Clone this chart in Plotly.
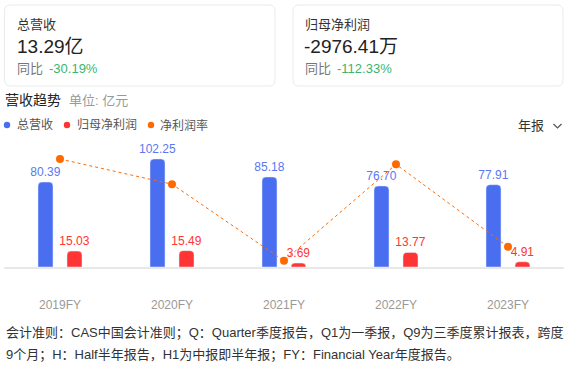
import plotly.graph_objects as go

categories = ["2019FY", "2020FY", "2021FY", "2022FY", "2023FY"]
revenue = [80.39, 102.25, 85.18, 76.70, 77.91]
net_profit = [15.03, 15.49, 3.69, 13.77, 4.91]
net_margin = [18.70, 15.15, 4.33, 17.95, 6.30]

W, H = 573, 366
FONT = "Liberation Sans, Arial, Noto Sans CJK SC, sans-serif"
BLUE = "#4a6ef0"
BLUE_TXT = "#5b78f2"
RED = "#ff3434"
ORANGE = "#ff6a00"
GREEN = "#3cb46e"

def px_x(x):
    return x / W

def px_y(y):
    return 1 - y / H

fig = go.Figure()

bw = 15 / 112
off = 14.5 / 112
fig.add_trace(go.Bar(
    x=categories, y=revenue, name="总营收",
    marker=dict(color=BLUE, cornerradius=4),
    width=bw, offset=-off - bw / 2,
    text=[f"{v:.2f}" for v in revenue], textposition="outside",
    constraintext="none",
    textfont=dict(color=BLUE_TXT, size=12, family=FONT),
    cliponaxis=False,
))
fig.add_trace(go.Bar(
    x=categories, y=net_profit, name="归母净利润",
    marker=dict(color=RED, cornerradius=4),
    width=bw, offset=off - bw / 2,
    text=[f"{v:.2f}" for v in net_profit], textposition="outside",
    constraintext="none",
    textfont=dict(color=RED, size=12, family=FONT),
    cliponaxis=False,
))
fig.add_trace(go.Scatter(
    x=categories, y=net_margin, name="净利润率", yaxis="y2",
    mode="lines+markers",
    line=dict(color=ORANGE, width=1, dash="dot"),
    marker=dict(color=ORANGE, size=8),
    cliponaxis=False,
))

top_px, base_px = 140.2, 267
fig.update_layout(
    width=W, height=H,
    margin=dict(l=0, r=0, t=0, b=0),
    paper_bgcolor="white", plot_bgcolor="white",
    showlegend=False,
    barmode="overlay",
    font=dict(family=FONT),
    xaxis=dict(
        domain=[px_x(4), px_x(564)],
        range=[-0.5, 4.5], type="category",
        showgrid=False, zeroline=False,
        showline=True, linecolor="#e8e8e8", linewidth=2,
        ticks="", ticklabelstandoff=26,
        tickfont=dict(color="#999999", size=12, family=FONT),
    ),
    yaxis=dict(
        domain=[px_y(base_px), px_y(top_px)],
        range=[0, 120], visible=False, showgrid=False, zeroline=False,
    ),
    yaxis2=dict(
        domain=[px_y(base_px), px_y(top_px)],
        overlaying="y", range=[3.45, 21.36], visible=False,
        showgrid=False, zeroline=False,
    ),
)

shapes = []
def rrect(x0, y0, x1, y1, r):
    return (f"M {x0+r},{y0} L {x1-r},{y0} Q {x1},{y0} {x1},{y0+r} "
            f"L {x1},{y1-r} Q {x1},{y1} {x1-r},{y1} L {x0+r},{y1} "
            f"Q {x0},{y1} {x0},{y1-r} L {x0},{y0+r} Q {x0},{y0} {x0+r},{y0} Z")

def to_paper_path(x0, y0, x1, y1, r):
    pts = rrect(x0, y0, x1, y1, r).split(" ")
    out = []
    for p in pts:
        if "," in p:
            a, b = p.split(",")
            out.append(f"{px_x(float(a)):.5f},{px_y(float(b)):.5f}")
        else:
            out.append(p)
    return " ".join(out)

for (x0, x1) in [(4.5, 275), (293, 563)]:
    shapes.append(dict(type="path", xref="paper", yref="paper",
                       path=to_paper_path(x0, 5, x1, 86, 6),
                       line=dict(color="#ebebeb", width=1), fillcolor="rgba(0,0,0,0)"))

for cx, col in [(7, BLUE), (67, RED), (151, ORANGE)]:
    shapes.append(dict(type="circle", xref="paper", yref="paper",
                       x0=px_x(cx - 3.2), x1=px_x(cx + 3.2),
                       y0=px_y(125 + 3.2), y1=px_y(125 - 3.2),
                       fillcolor=col, line=dict(width=0)))
shapes.append(dict(type="path", xref="paper", yref="paper",
                   path=f"M {px_x(553.5)},{px_y(124)} L {px_x(557.5)},{px_y(128)} L {px_x(561.5)},{px_y(124)}",
                   line=dict(color="#555555", width=1.2)))
fig.update_layout(shapes=shapes)

annotations = []
def txt(x, y, s, size=13, color="#333333", xanchor="left"):
    annotations.append(dict(x=px_x(x), y=px_y(y), xref="paper", yref="paper",
                            text=s, showarrow=False, xanchor=xanchor, yanchor="middle",
                            font=dict(size=size, color=color, family=FONT)))

txt(15, 25, "总营收", 13, "#333333")
txt(15, 46, "13.29亿", 19, "#222222")
txt(15, 68, "同比", 13, "#777777")
txt(47, 68, "-30.19%", 13, GREEN)
txt(303, 25, "归母净利润", 13, "#333333")
txt(302, 46, "-2976.41万", 19, "#222222")
txt(303, 68, "同比", 13, "#777777")
txt(335, 68, "-112.33%", 13, GREEN)

txt(3, 100, "营收趋势", 14, "#222222")
txt(67, 100, "单位: 亿元", 13, "#999999")
txt(15, 125, "总营收", 12, "#555555")
txt(75, 125, "归母净利润", 12, "#555555")
txt(158, 125, "净利润率", 12, "#555555")
txt(516, 126, "年报", 13, "#333333")

txt(4, 333, "会计准则：CAS中国会计准则；Q：Quarter季度报告，Q1为一季报，Q9为三季度累计报表，跨度", 13, "#333333")
txt(4, 355, "9个月；H：Half半年报告，H1为中报即半年报；FY：Financial Year年度报告。", 13, "#333333")

fig.update_layout(annotations=annotations)

fig.write_html("out.html")
